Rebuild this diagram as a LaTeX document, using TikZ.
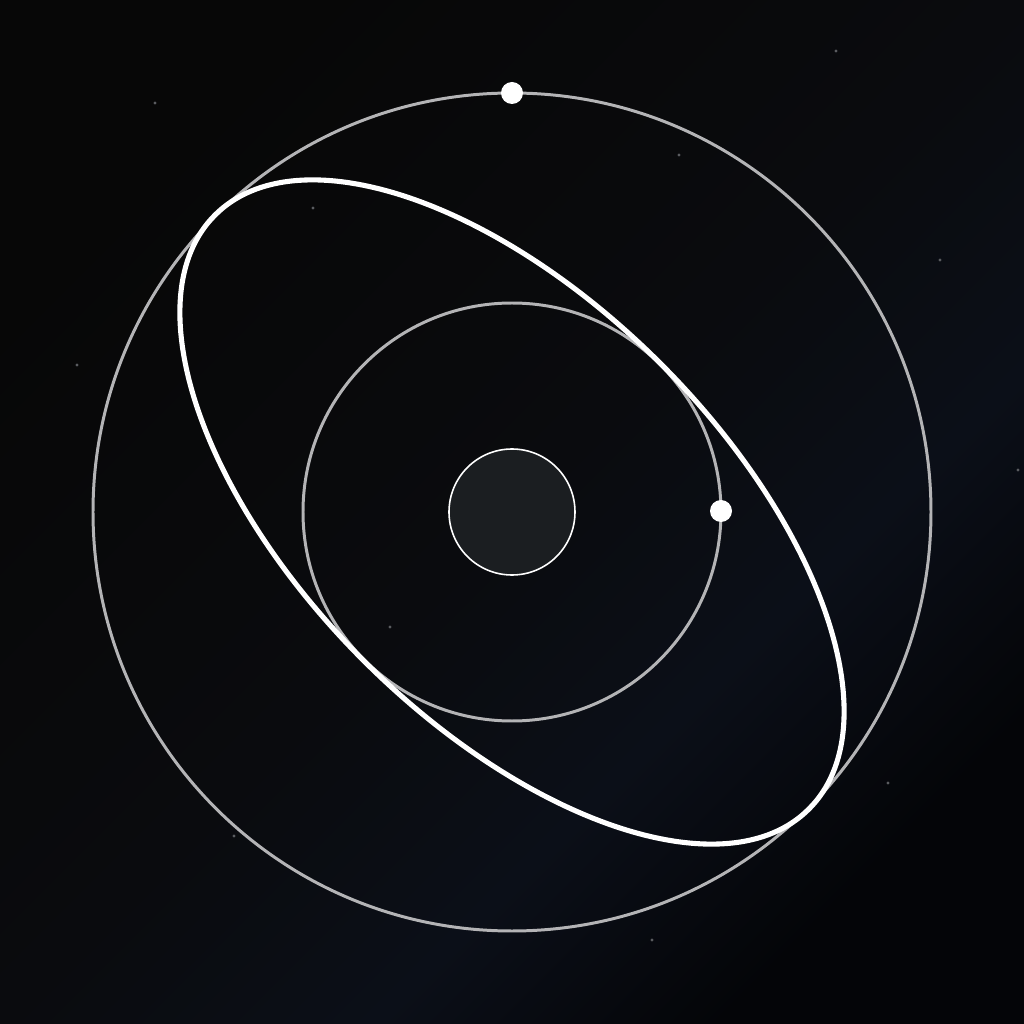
\documentclass[tikz,border=0pt]{standalone}
\usepackage{tikz}
\usetikzlibrary{positioning}

\definecolor{skystart}{HTML}{070707}
\definecolor{skymid}{HTML}{0A0B0E}
\definecolor{skyglow}{HTML}{0B0F18}
\definecolor{skyend}{HTML}{040508}
\definecolor{orbitgrey}{HTML}{B4B4B6}
\definecolor{sunfill}{HTML}{1B1E21}
\definecolor{stargrey}{HTML}{5A5C60}

\pgfdeclarehorizontalshading{sky}{100bp}{color(0bp)=(skystart); color(25bp)=(skystart);
  color(50bp)=(skymid); color(63bp)=(skyglow); color(75bp)=(skyend); color(100bp)=(skyend)}

\tikzset{
  orbit/.style={draw=orbitgrey, line width=0.85pt},
  transfer/.style={draw=white, line width=1.45pt},
  body/.style={circle, fill=white, inner sep=0pt, minimum size=0.22cm},
  star/.style={fill=stargrey}
}

\begin{document}
\begin{tikzpicture}
  \shade[shading=sky, shading angle=-45] (0,0) rectangle (10.24,10.24);
  \useasboundingbox (0,0) rectangle (10.24,10.24);

  % stars
  \foreach \x/\y in {1.55/9.21, 8.36/9.73, 6.79/8.69, 3.13/8.16, 9.40/7.64, 0.77/6.59,
                     3.90/3.97, 8.88/2.41, 2.34/1.88, 6.52/0.84, 10.18/5.54}
    \fill[star](\x,\y)circle(0.016);

  % central body and orbits
  \node[circle, fill=sunfill, draw=white, line width=0.45pt, minimum size=1.26cm, inner sep=0pt] (sun) at (5.12,5.12){};
  \draw[orbit](sun.center)circle(2.09);
  \draw[orbit](sun.center)circle(4.19);
  \draw[transfer, rotate around={-45:(sun.center)}](sun.center)ellipse[x radius=4.20, y radius=2.10];

  % bodies on the orbits
  \node[body] (outer) at (5.12,9.31){};
  \node[body] (inner) at (7.21,5.13){};
\end{tikzpicture}
\end{document}
